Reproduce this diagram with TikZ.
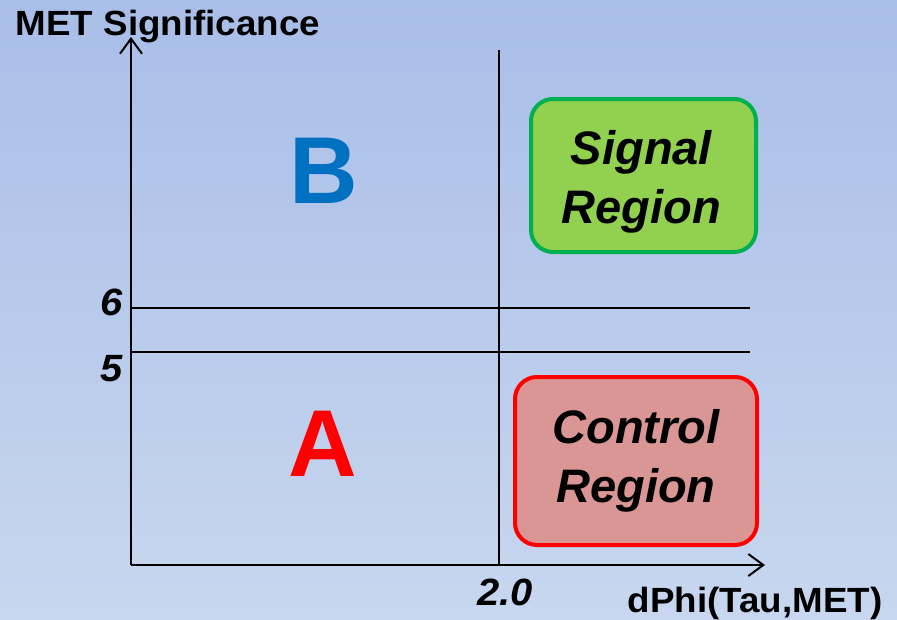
\documentclass[tikz,border=0pt]{standalone}
\usepackage{fontspec}
\setmainfont{Liberation Sans}
\newfontfamily\widesans[FakeStretch=1.05]{Liberation Sans}
\usetikzlibrary{arrows.meta}

\definecolor{bgtop}{RGB}{169,190,232}
\definecolor{bgbot}{RGB}{200,215,239}
\definecolor{sigfill}{RGB}{146,208,80}
\definecolor{sigdraw}{RGB}{0,176,80}
\definecolor{ctrlfill}{RGB}{217,150,148}
\definecolor{ctrldraw}{RGB}{255,0,0}
\definecolor{regionblue}{RGB}{0,112,192}
\definecolor{regionred}{RGB}{255,0,0}

\tikzset{
  axis/.style={line width=2pt, -{Straight Barb[length=15pt,width=22pt,line width=2pt]}},
  cutline/.style={line width=1.6pt},
  regionbox/.style={rounded corners=22pt, line width=4pt},
  boxtext/.style={align=center, text=black,
    font=\bfseries\itshape\fontsize{47}{59}\selectfont},
  axislabel/.style={font=\widesans\bfseries\fontsize{35}{38}\selectfont, anchor=base},
  ticklabel/.style={font=\widesans\bfseries\itshape\fontsize{38}{40}\selectfont, anchor=base},
  bigletter/.style={font=\bfseries\fontsize{95}{100}\selectfont, anchor=base}
}

\begin{document}
\begin{tikzpicture}[x=1pt,y=-1pt]
  % background
  \shade[top color=bgtop, bottom color=bgbot] (0,0) rectangle (897,619);
  \useasboundingbox (0,0) rectangle (897,619);

  % axes
  \coordinate (origin) at (131,565);
  \coordinate (ytip) at (131,37);
  \coordinate (xtip) at (765,565);
  \draw[axis] (origin) -- (ytip);
  \draw[axis] (origin) -- (xtip);

  % cuts
  \coordinate (vtop) at (499,50);
  \coordinate (vbot) at (499,565);
  \draw[cutline] (vtop) -- (vbot);
  \coordinate (cutsixL) at (131,308);
  \coordinate (cutsixR) at (750,308);
  \coordinate (cutfiveL) at (131,352);
  \coordinate (cutfiveR) at (750,352);
  \draw[cutline] (cutsixL) -- (cutsixR);
  \draw[cutline] (cutfiveL) -- (cutfiveR);

  % axis titles and tick values
  \node[axislabel] (ytitle) at (168,35) {MET Significance};
  \node[axislabel] (xtitle) at (755,612) {dPhi(Tau,MET)};
  \node[ticklabel] (tsix) at (112,315) {6};
  \node[ticklabel] (tfive) at (112,381) {5};
  \node[ticklabel] (ttwo) at (505,605) {2.0};

  % sideband letters
  \node[bigletter, text=regionblue] (regB) at (324,203) {B};
  \node[bigletter, text=regionred] (regA) at (323,476) {A};

  % region boxes
  \node[regionbox, draw=sigdraw, fill=sigfill, minimum width=225pt, minimum height=153pt]
    (signal) at (643.5,175.5) {};
  \node[boxtext] (signaltext) at ([xshift=-2pt,yshift=-6pt]signal.center) {Signal\\Region};
  \node[regionbox, draw=ctrldraw, fill=ctrlfill, minimum width=242pt, minimum height=168pt]
    (control) at (636,461) {};
  \node[boxtext] (controltext) at (control.center) {Control\\Region};
\end{tikzpicture}
\end{document}
